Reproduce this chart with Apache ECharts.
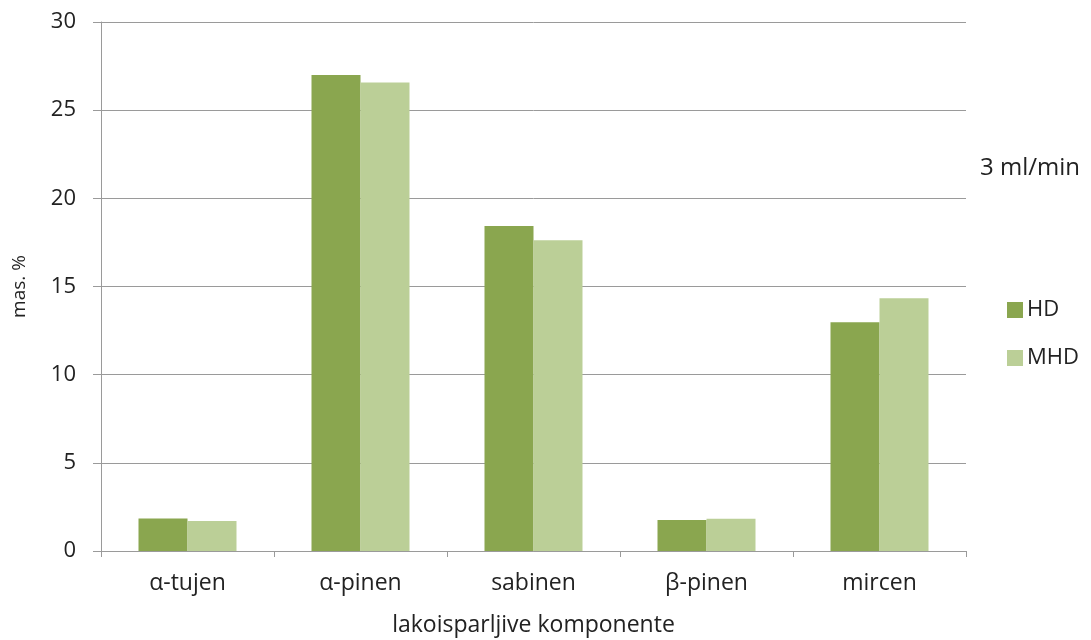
<!DOCTYPE html>
<html>
<head>
<meta charset="utf-8">
<script src="https://cdn.jsdelivr.net/npm/echarts@6/dist/echarts.min.js"></script>
<style>
  html, body { margin: 0; padding: 0; background: #fff; }
  #chart { width: 1091px; height: 640px; }
</style>
</head>
<body>
<div id="chart"></div>
<script>
const categories = ['α-tujen', 'α-pinen', 'sabinen', 'β-pinen', 'mircen']
const hdValues = [1.85, 27.0, 18.43, 1.76, 12.97]
const mhdValues = [1.7, 26.57, 17.62, 1.83, 14.33]
const yTicks = [0, 5, 10, 15, 20, 25, 30]

const font = "'Open Sans', sans-serif"
const textColor = '#222'
const lineColor = '#9a9a9a'

const chart = echarts.init(document.getElementById('chart'))
const option = {
  animation: false,
  title: {
    text: '3 ml/min',
    left: 980,
    top: 156,
    padding: 0,
    textStyle: { fontFamily: font, fontSize: 24, fontWeight: 'normal', color: textColor }
  },
  legend: {
    orient: 'vertical',
    left: 1007,
    top: 298,
    padding: 0,
    itemWidth: 16,
    itemHeight: 16,
    itemGap: 24,
    icon: 'rect',
    textStyle: { fontFamily: font, fontSize: 22, lineHeight: 24, color: textColor, padding: [0, 0, 0, -1] },
    data: ['HD', 'MHD']
  },
  grid: {
    left: 101,
    right: 125,
    top: 22,
    bottom: 89,
    containLabel: false,
    outerBoundsMode: 'none'
  },
  xAxis: {
    type: 'category',
    data: categories,
    name: 'lakoisparljive komponente',
    nameLocation: 'middle',
    nameGap: 63,
    nameTextStyle: { fontFamily: font, fontSize: 23, color: textColor },
    axisLine: { lineStyle: { color: lineColor, width: 1 } },
    axisTick: { show: true, length: 6, lineStyle: { color: lineColor } },
    axisLabel: { fontFamily: font, fontSize: 23, color: textColor, margin: 21 }
  },
  yAxis: {
    type: 'value',
    min: yTicks[0],
    max: yTicks[yTicks.length - 1],
    interval: 5,
    name: 'mas. %',
    nameLocation: 'middle',
    nameGap: 72,
    nameTextStyle: { fontFamily: font, fontSize: 19, color: textColor },
    axisLine: { show: true, lineStyle: { color: lineColor, width: 1 } },
    axisTick: { show: true, length: 8, lineStyle: { color: lineColor } },
    axisLabel: { fontFamily: font, fontSize: 22, color: textColor, margin: 25 },
    splitLine: { show: true, lineStyle: { color: lineColor, width: 1 } }
  },
  series: [
    {
      name: 'HD',
      type: 'bar',
      data: hdValues,
      barWidth: 49,
      barGap: '0%',
      itemStyle: { color: '#8aa64f' }
    },
    {
      name: 'MHD',
      type: 'bar',
      data: mhdValues,
      barWidth: 49,
      barGap: '0%',
      itemStyle: { color: '#bbcf97' }
    }
  ]
}
chart.setOption(option)
</script>
</body>
</html>
